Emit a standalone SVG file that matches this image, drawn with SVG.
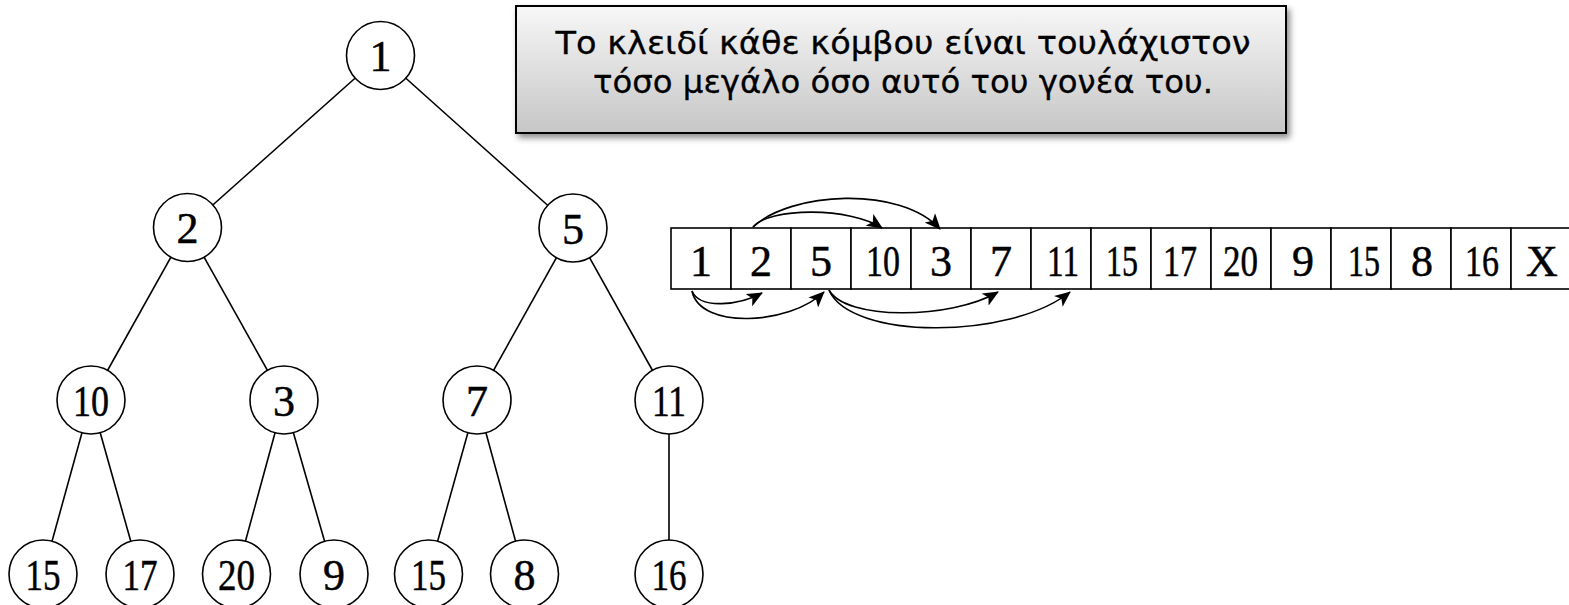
<svg xmlns="http://www.w3.org/2000/svg" width="1569" height="605" viewBox="0 0 1569 605">
<style>
.edge{stroke:#000;stroke-width:1.6;fill:none}
.node{fill:#fff;stroke:#000;stroke-width:1.6}
.lbl{font-family:"Liberation Serif","Times New Roman",serif;font-size:44px;text-anchor:middle;fill:#000;stroke:#000;stroke-width:0.5}
.cell{fill:#fff;stroke:#000;stroke-width:1.6}
.arr{stroke:#000;stroke-width:1.6;fill:none;marker-end:url(#ah)}
.note{font-family:"DejaVu Sans","Noto Sans",sans-serif;font-size:32px;text-anchor:middle;fill:#000;stroke:#000;stroke-width:0.3}
</style>
<defs>
<marker id="ah" viewBox="0 0 16 14" refX="15" refY="7" markerWidth="16" markerHeight="14" markerUnits="userSpaceOnUse" orient="auto">
<path d="M0,0 L16,7 L0,14 L4,7 z" fill="#000"/>
</marker>
<linearGradient id="gbox" x1="0" y1="0" x2="0" y2="1">
<stop offset="0" stop-color="#f7f7f7"/>
<stop offset="1" stop-color="#c6c6c6"/>
</linearGradient>
<filter id="shadow" x="-5%" y="-10%" width="115%" height="130%">
<feDropShadow dx="3" dy="4" stdDeviation="3" flood-color="#000" flood-opacity="0.45"/>
</filter>
</defs>
<rect width="1569" height="605" fill="#fff"/>

<g id="note">
<rect x="516" y="6" width="770" height="127" fill="url(#gbox)" stroke="#000" stroke-width="2" filter="url(#shadow)"/>
<text class="note" x="903" y="54" textLength="695" lengthAdjust="spacingAndGlyphs">Το κλειδί κάθε κόμβου είναι τουλάχιστον</text>
<text class="note" x="903" y="93" textLength="620" lengthAdjust="spacingAndGlyphs">τόσο μεγάλο όσο αυτό του γονέα του.</text>
</g>

<g id="tree-edges">
<line class="edge" x1="380.5" y1="55.5" x2="187.5" y2="227.5"/>
<line class="edge" x1="380.5" y1="55.5" x2="573" y2="228"/>
<line class="edge" x1="187.5" y1="227.5" x2="91" y2="400"/>
<line class="edge" x1="187.5" y1="227.5" x2="284" y2="400"/>
<line class="edge" x1="573" y1="228" x2="477" y2="400"/>
<line class="edge" x1="573" y1="228" x2="669" y2="400"/>
<line class="edge" x1="91" y1="400" x2="43" y2="574"/>
<line class="edge" x1="91" y1="400" x2="140" y2="574"/>
<line class="edge" x1="284" y1="400" x2="236.5" y2="574"/>
<line class="edge" x1="284" y1="400" x2="334" y2="574"/>
<line class="edge" x1="477" y1="400" x2="428.5" y2="574"/>
<line class="edge" x1="477" y1="400" x2="524.5" y2="574"/>
<line class="edge" x1="669" y1="400" x2="669" y2="574"/>
</g>

<g id="n1"><circle class="node" cx="380.5" cy="55.5" r="34"/><text class="lbl" x="380.5" y="71">1</text></g>
<g id="n2"><circle class="node" cx="187.5" cy="227.5" r="34"/><text class="lbl" x="187.5" y="243">2</text></g>
<g id="n5"><circle class="node" cx="573" cy="228" r="34"/><text class="lbl" x="573" y="243.5">5</text></g>
<g id="n10"><circle class="node" cx="91" cy="400" r="34"/><text class="lbl" x="91" y="415.5" textLength="36" lengthAdjust="spacingAndGlyphs">10</text></g>
<g id="n3"><circle class="node" cx="284" cy="400" r="34"/><text class="lbl" x="284" y="415.5">3</text></g>
<g id="n7"><circle class="node" cx="477" cy="400" r="34"/><text class="lbl" x="477" y="415.5">7</text></g>
<g id="n11"><circle class="node" cx="669" cy="400" r="34"/><text class="lbl" x="669" y="415.5" textLength="34" lengthAdjust="spacingAndGlyphs">11</text></g>
<g id="n15a"><circle class="node" cx="43" cy="574" r="34"/><text class="lbl" x="43" y="589.5" textLength="35" lengthAdjust="spacingAndGlyphs">15</text></g>
<g id="n17"><circle class="node" cx="140" cy="574" r="34"/><text class="lbl" x="140" y="589.5" textLength="35" lengthAdjust="spacingAndGlyphs">17</text></g>
<g id="n20"><circle class="node" cx="236.5" cy="574" r="34"/><text class="lbl" x="236.5" y="589.5" textLength="37" lengthAdjust="spacingAndGlyphs">20</text></g>
<g id="n9"><circle class="node" cx="334" cy="574" r="34"/><text class="lbl" x="334" y="589.5">9</text></g>
<g id="n15b"><circle class="node" cx="428.5" cy="574" r="34"/><text class="lbl" x="428.5" y="589.5" textLength="35" lengthAdjust="spacingAndGlyphs">15</text></g>
<g id="n8"><circle class="node" cx="524.5" cy="574" r="34"/><text class="lbl" x="524.5" y="589.5">8</text></g>
<g id="n16"><circle class="node" cx="669" cy="574" r="34"/><text class="lbl" x="669" y="589.5" textLength="35" lengthAdjust="spacingAndGlyphs">16</text></g>

<g id="array">
<rect class="cell" x="671" y="228" width="60" height="61"/>
<rect class="cell" x="731" y="228" width="60" height="61"/>
<rect class="cell" x="791" y="228" width="60" height="61"/>
<rect class="cell" x="851" y="228" width="60" height="61"/>
<rect class="cell" x="911" y="228" width="60" height="61"/>
<rect class="cell" x="971" y="228" width="60" height="61"/>
<rect class="cell" x="1031" y="228" width="60" height="61"/>
<rect class="cell" x="1091" y="228" width="60" height="61"/>
<rect class="cell" x="1151" y="228" width="60" height="61"/>
<rect class="cell" x="1211" y="228" width="60" height="61"/>
<rect class="cell" x="1271" y="228" width="60" height="61"/>
<rect class="cell" x="1331" y="228" width="60" height="61"/>
<rect class="cell" x="1391" y="228" width="60" height="61"/>
<rect class="cell" x="1451" y="228" width="60" height="61"/>
<rect class="cell" x="1511" y="228" width="60" height="61"/>
<text class="lbl" x="701" y="276">1</text>
<text class="lbl" x="761" y="276">2</text>
<text class="lbl" x="821" y="276">5</text>
<text class="lbl" x="883" y="276" textLength="34" lengthAdjust="spacingAndGlyphs">10</text>
<text class="lbl" x="941" y="276">3</text>
<text class="lbl" x="1001" y="276">7</text>
<text class="lbl" x="1063" y="276" textLength="32" lengthAdjust="spacingAndGlyphs">11</text>
<text class="lbl" x="1122" y="276" textLength="32" lengthAdjust="spacingAndGlyphs">15</text>
<text class="lbl" x="1180" y="276" textLength="34" lengthAdjust="spacingAndGlyphs">17</text>
<text class="lbl" x="1240.5" y="276" textLength="35" lengthAdjust="spacingAndGlyphs">20</text>
<text class="lbl" x="1303" y="276">9</text>
<text class="lbl" x="1364" y="276" textLength="32" lengthAdjust="spacingAndGlyphs">15</text>
<text class="lbl" x="1422" y="276">8</text>
<text class="lbl" x="1482" y="276" textLength="34" lengthAdjust="spacingAndGlyphs">16</text>
<text class="lbl" x="1542" y="276">X</text>
</g>

<g id="connectors">
<path class="arr" d="M753,227 C770,207 850,207 882,228"/>
<path class="arr" d="M753,227 C790,192 900,185 940,229"/>
<path class="arr" d="M692,291 C700,310 740,305 762,293"/>
<path class="arr" d="M692,291 C700,330 790,325 824,292"/>
<path class="arr" d="M829,290 C845,320 950,320 998,292"/>
<path class="arr" d="M829,290 C850,340 1010,340 1070,292"/>
</g>
</svg>
